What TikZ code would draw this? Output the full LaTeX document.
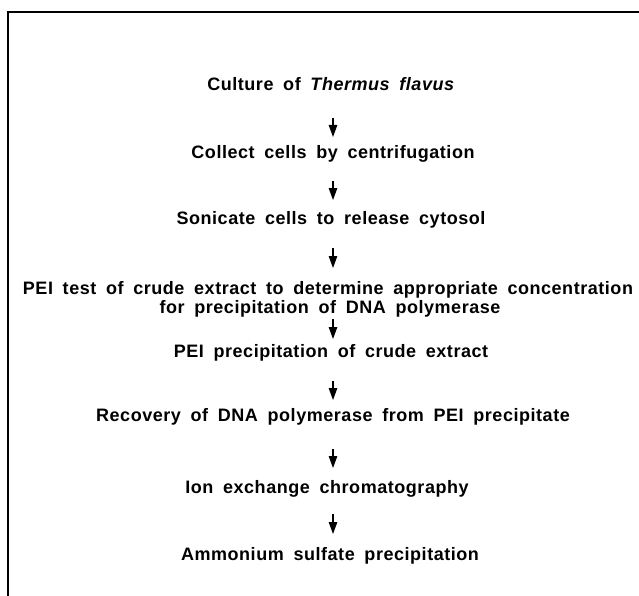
\documentclass[tikz,border=0pt]{standalone}
\usepackage{fontspec}
\setmainfont[LetterSpace=3,WordSpace=1.75]{Liberation Sans}
\usetikzlibrary{arrows.meta,calc}
\begin{document}
\begin{tikzpicture}[x=1pt,y=-1pt,
  lbl/.style={anchor=base,inner sep=0pt,font=\fontsize{18}{18}\selectfont\bfseries,align=center},
  flow/.style={line width=1.2pt,-{Triangle[length=12pt,width=8.5pt]}}]
\useasboundingbox (0,0) rectangle (639,596);
\draw[line width=1.3pt] (639,12) -- (8,12) -- (8,596);
\node[lbl] (n1) at (331,91) {Culture of \textit{Thermus flavus}};
\node[lbl] (n2) at (333,158.7) {Collect cells by centrifugation};
\node[lbl] (n3) at (331,224.7) {Sonicate cells to release cytosol};
\node[lbl] (n4a) at (328,294.3) {PEI test of crude extract to determine appropriate concentration};
\node[lbl] (n4b) at (330,313) {for precipitation of DNA polymerase};
\node[lbl] (n5) at (331,357) {PEI precipitation of crude extract};
\node[lbl] (n6) at (333,421.7) {Recovery of DNA polymerase from PEI precipitate};
\node[lbl] (n7) at (327,493) {Ion exchange chromatography};
\node[lbl] (n8) at (330,560) {Ammonium sulfate precipitation};
\coordinate (a1) at (333,118); \coordinate (b1) at (333,137);
\coordinate (a2) at (333,181); \coordinate (b2) at (333,200);
\coordinate (a3) at (333,248); \coordinate (b3) at (333,268);
\coordinate (a4) at (333,319); \coordinate (b4) at (333,339);
\coordinate (a5) at (333,381); \coordinate (b5) at (333,400);
\coordinate (a6) at (333,449); \coordinate (b6) at (333,468);
\coordinate (a7) at (333,514); \coordinate (b7) at (333,534);
\draw[flow] (a1) -- (b1);
\draw[flow] (a2) -- (b2);
\draw[flow] (a3) -- (b3);
\draw[flow] (a4) -- (b4);
\draw[flow] (a5) -- (b5);
\draw[flow] (a6) -- (b6);
\draw[flow] (a7) -- (b7);
\end{tikzpicture}
\end{document}
